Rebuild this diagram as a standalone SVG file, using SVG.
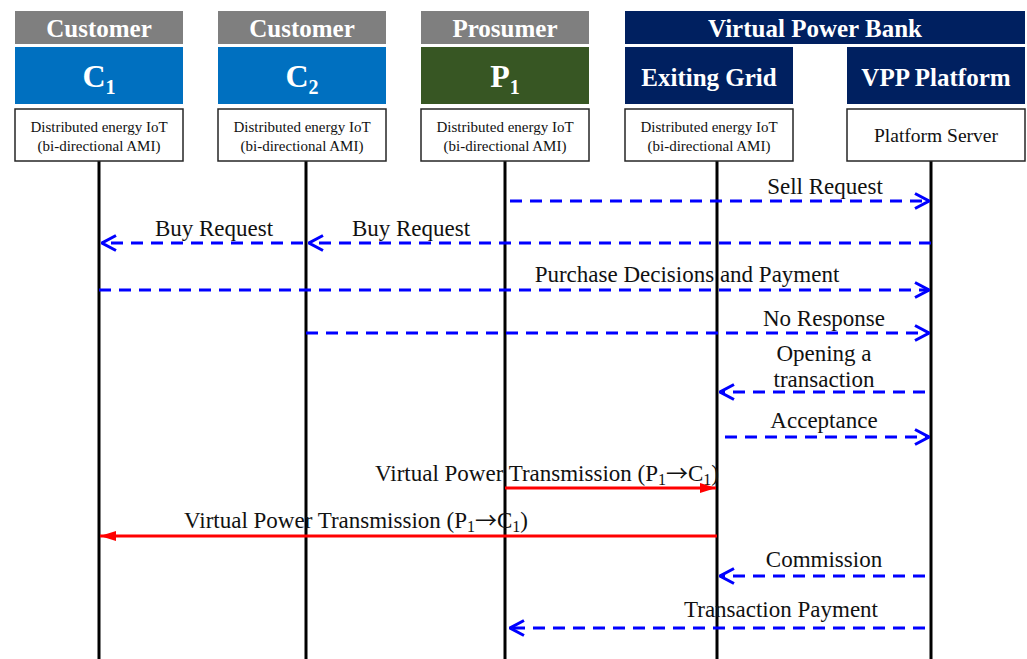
<svg xmlns="http://www.w3.org/2000/svg" width="1027" height="659" viewBox="0 0 1027 659">
<defs>
<style>
.hdr{font-family:"Liberation Serif","Times New Roman",serif;font-weight:bold;fill:#fff;text-anchor:middle}
.box{fill:#fff;stroke:#262626;stroke-width:1.5}
.small{font-family:"Liberation Serif","Times New Roman",serif;font-size:15px;fill:#111;text-anchor:middle}
.server{font-family:"Liberation Serif","Times New Roman",serif;font-size:19.5px;fill:#111;text-anchor:middle}
.lbl{font-family:"Liberation Serif","Times New Roman",serif;font-size:23px;fill:#111}
.sub{font-size:16px}
.arr{font-family:"Noto Sans CJK JP","DejaVu Sans",sans-serif;font-size:22px}
.life{stroke:#000;stroke-width:3}
.msg{stroke:#0000ff;stroke-width:3;stroke-dasharray:12 8;fill:none;marker-end:url(#open)}
.pwr{stroke:#ff0000;stroke-width:3;fill:none;marker-end:url(#solid)}
</style>
<marker id="open" viewBox="0 0 16 18" refX="15" refY="9" markerWidth="16" markerHeight="18" markerUnits="userSpaceOnUse" orient="auto">
<path d="M1,1.5 L15,9 L1,16.5" fill="none" stroke="#0000ff" stroke-width="3" stroke-dasharray="none"/>
</marker>
<marker id="solid" viewBox="0 0 16 10" refX="16" refY="5" markerWidth="16" markerHeight="10" markerUnits="userSpaceOnUse" orient="auto">
<path d="M0,0 L16,5 L0,10 Z" fill="#ff0000"/>
</marker>
</defs>
<rect width="1027" height="659" fill="#fff"/>

<g id="lifelines">
<line class="life" x1="99" y1="161" x2="99" y2="659"/>
<line class="life" x1="306" y1="161" x2="306" y2="659"/>
<line class="life" x1="505" y1="161" x2="505" y2="659"/>
<line class="life" x1="717" y1="161" x2="717" y2="659"/>
<line class="life" x1="931" y1="161" x2="931" y2="659"/>
</g>

<g id="node-c1">
<rect x="15" y="11" width="168" height="33" fill="#7f7f7f"/>
<text class="hdr" x="99" y="37" font-size="25">Customer</text>
<rect x="15" y="47" width="168" height="57" fill="#0070c0"/>
<text class="hdr" x="99" y="87" font-size="32">C<tspan font-size="20" dy="7">1</tspan></text>
<rect class="box" x="15" y="109" width="168" height="52"/>
<text class="small" x="99" y="132">Distributed energy IoT</text>
<text class="small" x="99" y="151">(bi-directional AMI)</text>
</g>

<g id="node-c2">
<rect x="218" y="11" width="168" height="33" fill="#7f7f7f"/>
<text class="hdr" x="302" y="37" font-size="25">Customer</text>
<rect x="218" y="47" width="168" height="57" fill="#0070c0"/>
<text class="hdr" x="302" y="87" font-size="32">C<tspan font-size="20" dy="7">2</tspan></text>
<rect class="box" x="218" y="109" width="168" height="52"/>
<text class="small" x="302" y="132">Distributed energy IoT</text>
<text class="small" x="302" y="151">(bi-directional AMI)</text>
</g>

<g id="node-p1">
<rect x="421" y="11" width="168" height="33" fill="#7f7f7f"/>
<text class="hdr" x="505" y="37" font-size="25">Prosumer</text>
<rect x="421" y="47" width="168" height="57" fill="#375623"/>
<text class="hdr" x="505" y="87" font-size="32">P<tspan font-size="20" dy="7">1</tspan></text>
<rect class="box" x="421" y="109" width="168" height="52"/>
<text class="small" x="505" y="132">Distributed energy IoT</text>
<text class="small" x="505" y="151">(bi-directional AMI)</text>
</g>

<g id="node-vpb">
<rect x="625" y="11" width="400" height="33" fill="#002060"/>
<text class="hdr" x="815" y="37" font-size="25">Virtual Power Bank</text>
</g>

<g id="node-grid">
<rect x="625" y="47" width="168" height="57" fill="#002060"/>
<text class="hdr" x="709" y="86" font-size="25">Exiting Grid</text>
<rect class="box" x="625" y="109" width="168" height="52"/>
<text class="small" x="709" y="132">Distributed energy IoT</text>
<text class="small" x="709" y="151">(bi-directional AMI)</text>
</g>

<g id="node-vpp">
<rect x="847" y="47" width="178" height="57" fill="#002060"/>
<text class="hdr" x="936" y="86" font-size="25">VPP Platform</text>
<rect class="box" x="847" y="109" width="178" height="52"/>
<text class="server" x="936" y="142">Platform Server</text>
</g>

<g id="connectors">
<line class="msg" x1="510" y1="201" x2="929" y2="201"/>
<line class="msg" x1="931" y1="243" x2="309" y2="243"/>
<line class="msg" x1="303" y1="243" x2="102" y2="243"/>
<line class="msg" x1="99" y1="290" x2="929" y2="290"/>
<line class="msg" x1="306" y1="333" x2="929" y2="333"/>
<line class="msg" x1="925" y1="392" x2="720" y2="392"/>
<line class="msg" x1="725" y1="437" x2="929" y2="437"/>
<line class="pwr" x1="505" y1="488" x2="716" y2="488"/>
<line class="pwr" x1="717" y1="536" x2="100" y2="536"/>
<line class="msg" x1="925" y1="576" x2="720" y2="576"/>
<line class="msg" x1="925" y1="628" x2="510" y2="628"/>
</g>

<g id="labels">
<text class="lbl" x="825" y="194" text-anchor="middle">Sell Request</text>
<text class="lbl" x="214" y="236" text-anchor="middle">Buy Request</text>
<text class="lbl" x="411" y="236" text-anchor="middle">Buy Request</text>
<text class="lbl" x="687" y="282" text-anchor="middle">Purchase Decisions and Payment</text>
<text class="lbl" x="824" y="326" text-anchor="middle">No Response</text>
<text class="lbl" x="824" y="361" text-anchor="middle">Opening a</text>
<text class="lbl" x="824" y="387" text-anchor="middle">transaction</text>
<text class="lbl" x="824" y="428" text-anchor="middle">Acceptance</text>
<text class="lbl" x="719" y="481" text-anchor="end">Virtual Power Transmission (P<tspan class="sub" dy="4">1</tspan><tspan class="arr" dy="-4">→</tspan>C<tspan class="sub" dy="4">1</tspan><tspan dy="-4">)</tspan></text>
<text class="lbl" x="528" y="528" text-anchor="end">Virtual Power Transmission (P<tspan class="sub" dy="4">1</tspan><tspan class="arr" dy="-4">→</tspan>C<tspan class="sub" dy="4">1</tspan><tspan dy="-4">)</tspan></text>
<text class="lbl" x="824" y="567" text-anchor="middle">Commission</text>
<text class="lbl" x="781" y="617" text-anchor="middle">Transaction Payment</text>
</g>
</svg>
